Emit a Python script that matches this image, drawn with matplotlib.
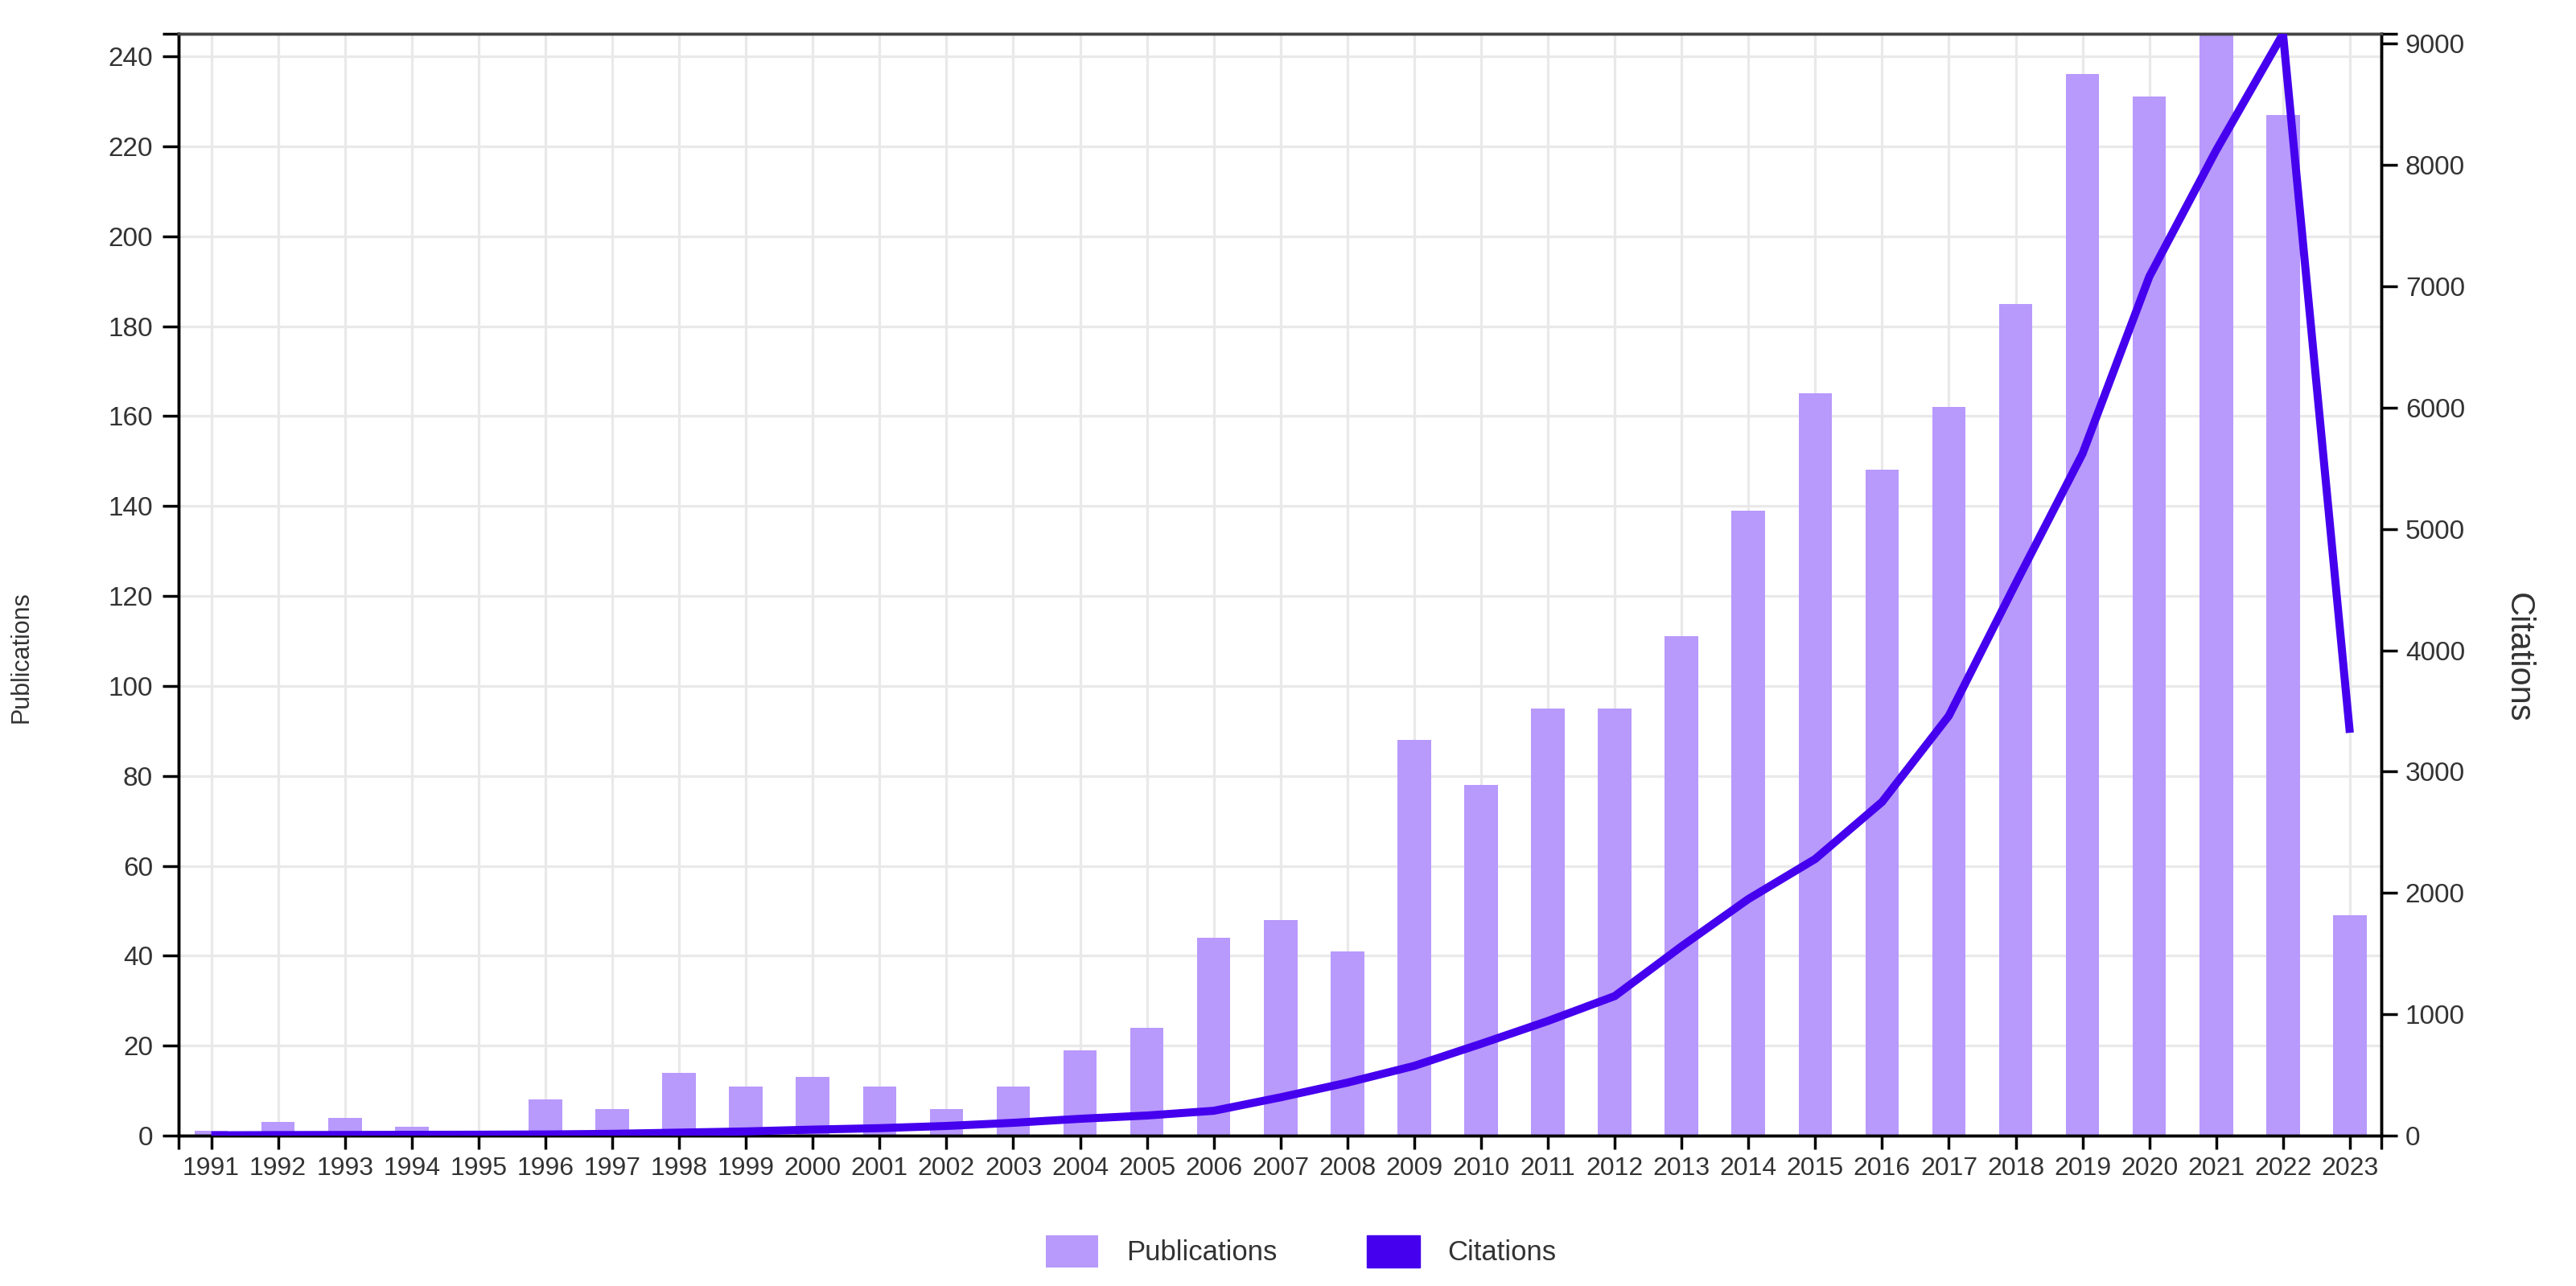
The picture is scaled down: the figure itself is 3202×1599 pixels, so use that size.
import numpy as np
import matplotlib.pyplot as plt

plt.rcParams['font.family'] = ['Liberation Sans', 'DejaVu Sans']

years = [str(y) for y in range(1991, 2024)]
publications = [1, 3, 4, 2, 0, 8, 6, 14, 11, 13, 11, 6, 11, 19, 24, 44, 48, 41,
                88, 78, 95, 95, 111, 139, 165, 148, 162, 185, 236, 231, 245, 227, 49]
citations = [3, 5, 6, 7, 8, 10, 15, 25, 35, 50, 62, 80, 106, 139, 166, 205, 316, 437,
             575, 757, 945, 1150, 1560, 1950, 2280, 2750, 3460, 4550, 5620, 7080, 8120, 9080, 3320]

pub_color = '#b899fc'
cit_color = '#4500ee'
text_color = '#333333'

fig = plt.figure(figsize=(32.02, 15.99), dpi=100)
ax = fig.add_axes([0.0693, 0.1169, 0.8551, 0.8568])
ax2 = ax.twinx()

x = np.arange(len(years))
ax.bar(x, publications, width=0.5, color=pub_color, label='Publications', zorder=2)
ax2.plot(x, citations, color=cit_color, lw=7.2, solid_joinstyle='miter',
         solid_capstyle='butt', label='Citations', zorder=3)

ax.set_xlim(-0.49, 32.47)
ax.set_ylim(0, 245)
ax2.set_ylim(0, 9080)
ax.set_xticks(x)
ax.set_xticklabels(years)
ax.set_yticks(np.arange(0, 241, 20))
ax2.set_yticks(np.arange(0, 9001, 1000))

# outer ticks at the axis ends
ax.set_xticks([-0.49, 32.47], minor=True)
ax.set_yticks([245], minor=True)
ax2.set_yticks([9080], minor=True)

ax.set_axisbelow(True)
ax.grid(True, color='#e9e9e9', lw=2.3)

for a in (ax, ax2):
    for side in ('left', 'right', 'bottom'):
        a.spines[side].set_linewidth(2.5)
        a.spines[side].set_color('black')
    a.spines['top'].set_linewidth(2.5)
    a.spines['top'].set_color('#444444')
    a.tick_params(which='both', width=2.5, color='black', labelcolor=text_color)
ax.tick_params(axis='y', which='both', labelsize=24, pad=8.5, length=14.5)
ax.tick_params(axis='x', which='both', labelsize=23, pad=6, length=12.5)
ax2.tick_params(axis='y', which='both', labelsize=24, pad=7, length=14.5)

ax.set_ylabel('Publications', fontsize=22, color=text_color)
ax.yaxis.set_label_coords(-0.066, 0.434)
ax2.set_ylabel('Citations', fontsize=30, color=text_color, rotation=270, va='center')
ax2.yaxis.set_label_coords(1.062, 0.434)

h1, l1 = ax.get_legend_handles_labels()
h2 = [plt.Rectangle((0, 0), 1, 1, color=cit_color)]
fig.legend(h1 + h2, l1 + ['Citations'], loc='center', bbox_to_anchor=(0.505, 0.027),
           ncol=2, frameon=False, fontsize=25, handlelength=1.9, handleheight=1.4,
           handletextpad=1.0, columnspacing=3.2, labelcolor=text_color)

plt.savefig('out.png', dpi=100)
